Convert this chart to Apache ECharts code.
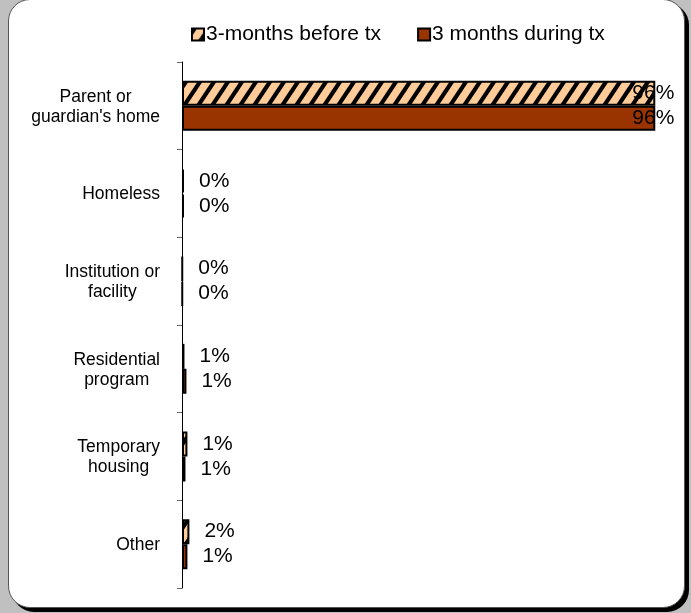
<!DOCTYPE html>
<html>
<head>
<meta charset="utf-8">
<script src="https://cdn.jsdelivr.net/npm/echarts@6/dist/echarts.min.js"></script>
<style>
  html, body { margin: 0; padding: 0; width: 691px; height: 613px; background: #c0c0c0; overflow: hidden; }
  #panel { position: absolute; left: 8px; top: -1px; width: 675px; height: 607px; background: #fff;
           border: 1px solid #555; border-radius: 22px; box-shadow: 4px 4px 0 #000; }
  #chart { position: absolute; left: 0; top: 0; width: 691px; height: 613px; }
</style>
</head>
<body>
<div id="panel"></div>
<div id="chart"></div>
<script>
const categories = ["Parent or\nguardian's home", "Homeless", "Institution or\nfacility", "Residential\nprogram", "Temporary\nhousing", "Other"];
const seriesNames = ["3-months before tx", "3 months during tx"];
const beforeValues = [96, 0.4, 0.1, 0.5, 1.1, 1.5];
const duringValues = [96, 0.4, 0.1, 0.9, 0.7, 1.1];

function hatchPattern() {
  const w = 14, h = 21, t = 5;
  const c = document.createElement('canvas');
  c.width = w; c.height = h;
  const ctx = c.getContext('2d');
  ctx.fillStyle = '#ffcc99';
  ctx.fillRect(0, 0, w, h);
  ctx.fillStyle = '#000';
  for (const k of [-1, 0, 1]) {
    ctx.beginPath();
    ctx.moveTo(k * w, h);
    ctx.lineTo(k * w + t, h);
    ctx.lineTo(k * w + w + t, 0);
    ctx.lineTo(k * w + w, 0);
    ctx.closePath();
    ctx.fill();
  }
  return c;
}

const FONT = 'Liberation Sans, Arial, sans-serif';
const labelBase = {
  show: true, position: 'right', distance: 15,
  color: '#000', fontSize: 21, fontFamily: FONT,
  formatter: p => Math.round(p.value) + '%'
};
function items(vals) {
  return vals.map(v => v > 90
    ? { value: v, label: { position: 'right', distance: -23 } }
    : { value: v });
}

const chart = echarts.init(document.getElementById('chart'), null, { renderer: 'canvas' });
chart.setOption({
  backgroundColor: 'transparent',
  animation: false,
  legend: {
    left: 191, top: 24, padding: 0, icon: 'rect',
    itemWidth: 12, itemHeight: 12, itemGap: 36,
    textStyle: { fontSize: 21, color: '#000', fontFamily: FONT, padding: [0, 0, 0, -3] },
    data: seriesNames
  },
  grid: { left: 182, right: 16, top: 62, bottom: 25, containLabel: false },
  xAxis: { type: 'value', min: 0, max: 100, show: false },
  yAxis: {
    type: 'category', inverse: true, data: categories,
    axisLine: { show: true, lineStyle: { color: '#000', width: 1 } },
    axisTick: { show: true, length: 5, inside: false, lineStyle: { color: '#666' } },
    axisLabel: {
      color: '#000', margin: 22, align: 'right',
      formatter: v => v.split('\n').map(s => '{c|' + s + '}').join('\n'),
      rich: { c: { align: 'center', fontSize: 17.5, lineHeight: 20, fontFamily: FONT, color: '#000', padding: [2, 0, 0, 0] } }
    }
  },
  series: [
    {
      name: seriesNames[0], type: 'bar', barWidth: 25, barGap: '0%',
      itemStyle: { color: { image: hatchPattern(), repeat: 'repeat' }, borderColor: '#000', borderWidth: 2 },
      label: labelBase,
      data: items(beforeValues)
    },
    {
      name: seriesNames[1], type: 'bar', barWidth: 25, barGap: '0%',
      itemStyle: { color: '#993300', borderColor: '#000', borderWidth: 2 },
      label: labelBase,
      data: items(duringValues)
    }
  ]
});
</script>
</body>
</html>
